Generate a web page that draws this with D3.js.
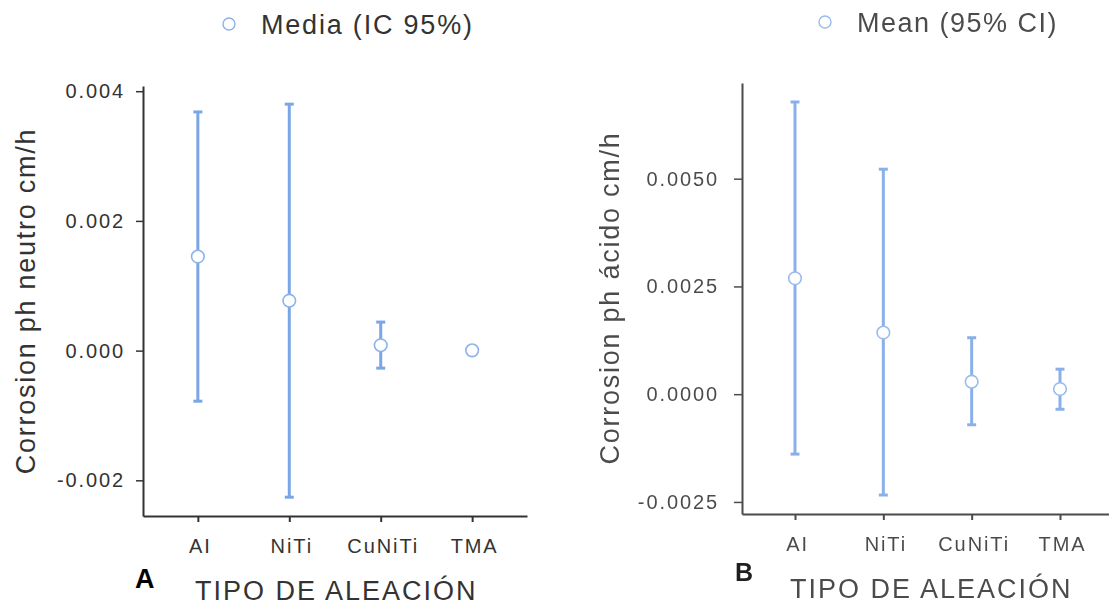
<!DOCTYPE html>
<html lang="es">

<head>
    <meta charset="UTF-8">
    <script src="https://d3js.org/d3.v7.min.js"></script>
    <title>Corrosion por tipo de aleación</title>

    <style>
        body {
            margin: 0;
            background: #fff;
            font-family: "Liberation Sans", Arial, Helvetica, sans-serif;
        }

        .axis path,
        .axis line {
            stroke: #333;
        }

        .axis text {
            fill: #333;
            font-size: 20px;
            letter-spacing: 1.9px;
        }
    </style>
</head>

<body>
    <script>
        // Categories (alloy types)
        const categories = ['AI', 'NiTi', 'CuNiTi', 'TMA'];

        // Panel A: neutral pH, mean and 95% CI
        const neutroMean = [0.00145, 0.00077, 0.000083, 0.000004];
        const neutroLower = [-0.00078, -0.00226, -0.00027, -0.00001];
        const neutroUpper = [0.00368, 0.00380, 0.00044, 0.00002];
        const neutroTicks = [-0.002, 0, 0.002, 0.004];

        // Panel B: acid pH, mean and 95% CI
        const acidoMean = [0.00269, 0.00143, 0.00029, 0.00012];
        const acidoLower = [-0.00139, -0.00234, -0.00071, -0.00035];
        const acidoUpper = [0.00678, 0.00522, 0.00131, 0.00058];
        const acidoTicks = [-0.0025, 0, 0.0025, 0.005];

        const barColor = '#7ba6e6';
        const dotColor = '#8cb2ec';

        const svg = d3.select('body').append('svg')
            .attr('width', 1109)
            .attr('height', 607);

        function drawPanel(p) {
            const data = categories.map((c, i) => ({
                cat: c,
                mean: p.mean[i],
                lo: p.lower[i],
                hi: p.upper[i]
            }));

            const x = d3.scalePoint().domain(categories).range(p.xRange).padding(0.6);
            const y = d3.scaleLinear().domain(p.yDomain).range(p.yRange);

            const g = svg.append('g').style('opacity', p.opacity);

            // y axis
            const yaxis = d3.axisLeft(y)
                .tickValues(p.ticks)
                .tickFormat((d) => d.toFixed(p.digits))
                .tickSizeInner(p.tickSize)
                .tickSizeOuter(0)
                .tickPadding(p.yPad);
            g.append('g').attr('class', 'y axis')
                .attr('transform', `translate(${p.xRange[0]},0)`)
                .call(yaxis)
                .call((s) => s.select('.domain').attr('stroke-width', 2))
                .call((s) => s.selectAll('.tick line').attr('stroke-width', 1.5));

            // x axis
            const xaxis = d3.axisBottom(x)
                .tickSizeInner(6)
                .tickSizeOuter(0)
                .tickPadding(17);
            g.append('g').attr('class', 'x axis')
                .attr('transform', `translate(0,${p.yRange[0]})`)
                .call(xaxis)
                .call((s) => s.select('.domain').attr('stroke-width', 2))
                .call((s) => s.selectAll('.tick line').attr('stroke-width', 2))
                .call((s) => s.selectAll('.tick text').attr('dx', '0.1em'));

            // error bars
            const bars = g.append('g').selectAll('g').data(data).join('g');
            bars.append('line')
                .attr('x1', (d) => x(d.cat)).attr('x2', (d) => x(d.cat))
                .attr('y1', (d) => y(d.lo)).attr('y2', (d) => y(d.hi))
                .attr('stroke', barColor).attr('stroke-width', 3);
            bars.selectAll('.cap').data((d) => [d.lo, d.hi].map((v) => ({ cat: d.cat, v })))
                .join('line').attr('class', 'cap')
                .attr('x1', (d) => x(d.cat) - 4.5).attr('x2', (d) => x(d.cat) + 4.5)
                .attr('y1', (d) => y(d.v)).attr('y2', (d) => y(d.v))
                .attr('stroke', barColor).attr('stroke-width', 3);
            bars.append('circle')
                .attr('cx', (d) => x(d.cat)).attr('cy', (d) => y(d.mean))
                .attr('r', 6.3)
                .attr('fill', '#fff').attr('stroke', dotColor).attr('stroke-width', 1.6);

            // legend
            g.append('circle')
                .attr('cx', p.legend[0]).attr('cy', p.legend[1]).attr('r', 6)
                .attr('fill', '#fff').attr('stroke', dotColor).attr('stroke-width', 1.4);
            g.append('text')
                .attr('x', p.legend[0] + 32).attr('y', p.legend[1] + 10)
                .attr('fill', '#333').style('font-size', '27px').style('letter-spacing', p.legendLs)
                .text(p.legendText);

            // y title
            g.append('text')
                .attr('transform', `translate(${p.yTitle[0]},${p.yTitle[1]}) rotate(-90)`)
                .attr('text-anchor', 'middle')
                .attr('fill', '#333').style('font-size', '27px').style('letter-spacing', '1.75px')
                .text(p.yLabel);

            // x title
            g.append('text')
                .attr('x', p.xTitle[0]).attr('y', p.xTitle[1])
                .attr('fill', '#333').style('font-size', '27px').style('letter-spacing', '2px')
                .text('TIPO DE ALEACIÓN');

            // panel letter
            g.append('text')
                .attr('x', p.letter[0]).attr('y', p.letter[1])
                .attr('fill', '#000').style('font-size', p.letterSize).style('font-weight', 'bold')
                .text(p.letterText);
        }

        drawPanel({
            mean: neutroMean, lower: neutroLower, upper: neutroUpper,
            ticks: neutroTicks, digits: 3,
            xRange: [143, 527], yDomain: [-0.00255, 0.00408], yRange: [516, 86],
            tickSize: 7, yPad: 11, opacity: 1,
            legend: [229, 24], legendText: 'Media (IC 95%)', legendLs: '1.8px',
            yLabel: 'Corrosion ph neutro cm/h', yTitle: [35, 301],
            xTitle: [195, 600], letter: [135, 588], letterSize: '27px', letterText: 'A'
        });

        drawPanel({
            mean: acidoMean, lower: acidoLower, upper: acidoUpper,
            ticks: acidoTicks, digits: 4,
            xRange: [742, 1113], yDomain: [-0.00278, 0.00722], yRange: [514, 83],
            tickSize: 8, yPad: 15, opacity: 0.88,
            legend: [825, 22], legendText: 'Mean (95% CI)', legendLs: '1.5px',
            yLabel: 'Corrosion ph ácido cm/h', yTitle: [619, 298],
            xTitle: [790, 598], letter: [735, 581], letterSize: '25px', letterText: 'B'
        });
    </script>
</body>

</html>
